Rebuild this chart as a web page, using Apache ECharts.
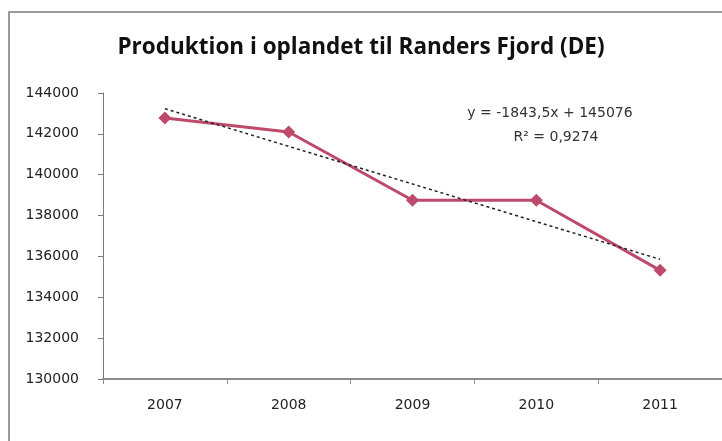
<!DOCTYPE html>
<html>
<head>
<meta charset="utf-8">
<script src="https://cdn.jsdelivr.net/npm/echarts@6/dist/echarts.min.js"></script>
<style>
html,body{margin:0;padding:0;background:#fff;}
#chart{width:722px;height:441px;}
</style>
</head>
<body>
<div id="chart"></div>
<script>
const titleText = 'Produktion i oplandet til Randers Fjord (DE)';
const years = ['2007', '2008', '2009', '2010', '2011'];
const production = [142780, 142090, 138750, 138750, 135320];
const trendEnds = [143232, null, null, null, 135859];
const trendLabel = ['y = -1843,5x + 145076', 'R² = 0,9274'];
const yTicks = { min: 130000, max: 144000, interval: 2000 };

const chart = echarts.init(document.getElementById('chart'), null, { renderer: 'canvas' });
chart.setOption({
  backgroundColor: '#fff',
  animation: false,
  title: {
    text: titleText,
    left: 'center',
    top: 31,
    textStyle: { fontFamily: 'Open Sans', fontWeight: 'bold', fontSize: 22.5, color: '#111' }
  },
  graphic: [
    { type: 'rect', shape: { x: 9, y: 12, width: 740, height: 460 }, style: { fill: 'none', stroke: '#9a9a9a', lineWidth: 2 }, z: -1 },
    { type: 'text', x: 550, y: 113, style: { text: trendLabel[0], font: '14px "DejaVu Sans"', fill: '#333', align: 'center', verticalAlign: 'middle' } },
    { type: 'text', x: 556, y: 137, style: { text: trendLabel[1], font: '14px "DejaVu Sans"', fill: '#333', align: 'center', verticalAlign: 'middle' } }
  ],
  grid: { left: 103, top: 93, bottom: 62, right: -3 },
  xAxis: {
    type: 'category',
    data: years,
    boundaryGap: true,
    axisLine: { lineStyle: { color: '#8c8c8c', width: 2 } },
    axisTick: { show: true, length: 5, lineStyle: { color: '#8c8c8c' } },
    axisLabel: { margin: 19, fontFamily: 'DejaVu Sans', fontSize: 14, color: '#222' },
    splitLine: { show: false }
  },
  yAxis: {
    type: 'value',
    min: yTicks.min,
    max: yTicks.max,
    interval: yTicks.interval,
    axisLine: { show: true, lineStyle: { color: '#7a7a7a', width: 1 } },
    axisTick: { show: true, length: 5, lineStyle: { color: '#7a7a7a' } },
    axisLabel: { margin: 24, fontFamily: 'DejaVu Sans', fontSize: 14, color: '#222', formatter: function (v) { return String(v); } },
    splitLine: { show: false }
  },
  series: [
    {
      name: 'Produktion',
      type: 'line',
      data: production,
      symbol: 'diamond',
      symbolSize: 13,
      itemStyle: { color: '#BE4A6B' },
      lineStyle: { color: '#BE4A6B', width: 3 },
      z: 3
    },
    {
      name: 'Trend',
      type: 'line',
      data: trendEnds,
      connectNulls: true,
      symbol: 'none',
      lineStyle: { color: '#222', width: 1.5, type: [3, 3] },
      z: 4
    }
  ]
});
</script>
</body>
</html>
